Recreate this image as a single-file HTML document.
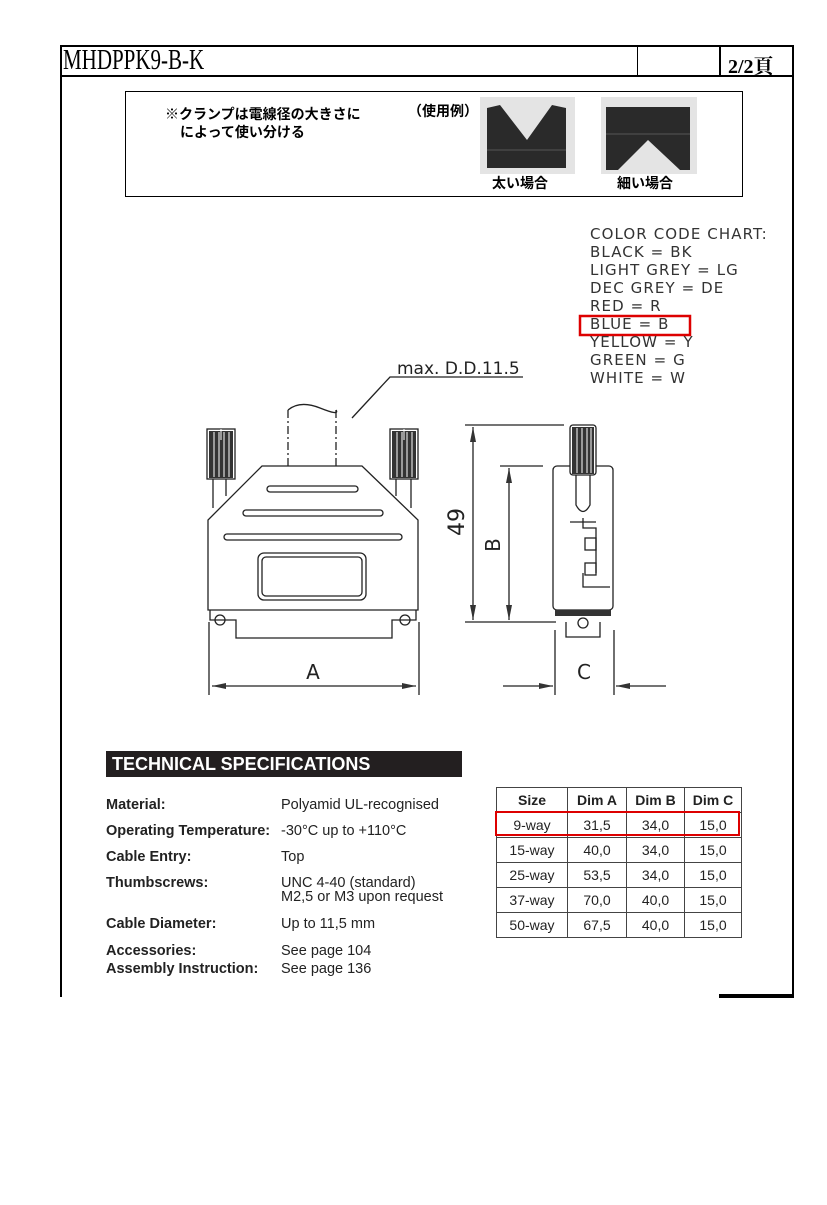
<!DOCTYPE html>
<html><head><meta charset="utf-8"><style>
html,body{margin:0;padding:0;background:#fff;}
body{width:827px;height:1205px;position:relative;overflow:hidden;font-family:"Liberation Sans","Noto Sans CJK JP",sans-serif;}
.a{position:absolute;white-space:nowrap;}
.jp{font-family:"Noto Sans CJK JP",sans-serif;font-weight:bold;font-size:14px;color:#000;}
.cc{font-family:"DejaVu Sans","Liberation Sans",sans-serif;font-size:15px;color:#333;letter-spacing:1.1px;}
.sp{font-size:14.5px;color:#222;}
.b{font-weight:bold;}
table{border-collapse:collapse;position:absolute;left:496px;top:787px;}
td{border:1px solid #444;font-size:14px;color:#222;height:24px;padding:0;text-align:center;}
</style></head><body>
<div class="a" style="left:60px;top:45px;width:734px;height:32px;border:2px solid #000;box-sizing:border-box;"></div>
<div class="a" style="left:637px;top:45px;width:1px;height:32px;background:#000;"></div>
<div class="a" style="left:719px;top:45px;width:2px;height:32px;background:#000;"></div>
<div class="a" style="left:60px;top:77px;width:2px;height:920px;background:#000;"></div>
<div class="a" style="left:792px;top:77px;width:2px;height:920px;background:#000;"></div>
<div class="a" style="left:719px;top:994px;width:75px;height:4px;background:#000;"></div>
<div class="a" style="left:63px;top:45px;font-family:'Liberation Serif',serif;font-size:28px;transform:scaleX(0.75);transform-origin:left;">MHDPPK9-B-K</div>
<div class="a" style="left:728px;top:50px;font-family:'Liberation Serif','Noto Serif CJK SC',serif;font-size:20px;font-weight:bold;">2/2頁</div>
<div class="a" style="left:125px;top:91px;width:618px;height:106px;border:1px solid #000;box-sizing:border-box;"></div>
<div class="a jp" style="left:165px;top:104px;">※クランプは電線径の大きさに</div>
<div class="a jp" style="left:180px;top:122px;">によって使い分ける</div>
<div class="a jp" style="left:408px;top:101px;">（使用例）</div>
<div class="a jp" style="left:492px;top:173px;">太い場合</div>
<div class="a jp" style="left:617px;top:173px;">細い場合</div>
<svg class="a" style="left:0;top:0" width="827" height="1205">
<rect x="480" y="97" width="95" height="77" fill="#e4e4e4"/>
<polygon points="487,108 500,105 527,140 552,105 566,108 566,168 487,168" fill="#2a2a2a"/>
<line x1="487" y1="150" x2="566" y2="150" stroke="#555"/>
<rect x="601" y="97" width="96" height="77" fill="#e4e4e4"/>
<polygon points="606,107 690,107 690,170 680,170 648,140 618,170 606,170" fill="#2a2a2a"/>
<line x1="606" y1="134" x2="690" y2="134" stroke="#555"/>
<rect x="580" y="316" width="110" height="19" fill="none" stroke="#d00" stroke-width="2.5"/>
<g fill="none" stroke="#222" stroke-width="1.3">
<polyline points="523,377 390,377 352,418"/>
<path d="M288,466 V410 M336,466 V410" stroke-dasharray="8,3,2,3"/>
<path d="M288,410 Q300,400 320,408 T336,410"/>
<polygon points="262,466 362,466 418,520 418,610 208,610 208,520"/>
<rect x="267" y="486" width="91" height="6" rx="3"/>
<rect x="243" y="510" width="140" height="6" rx="3"/>
<rect x="224" y="534" width="178" height="6" rx="3"/>
<rect x="258" y="553" width="108" height="47" rx="6"/>
<rect x="262" y="557" width="100" height="39" rx="4"/>
<path d="M210,610 V620 H236 V638 H392 V620 H416 V610"/>
<circle cx="220" cy="620" r="5"/><circle cx="405" cy="620" r="5"/>
<rect x="207" y="429" width="28" height="50" fill="#fff"/>
<rect x="390" y="429" width="28" height="50" fill="#fff"/>
<path d="M213,479 V508 M226,479 V496 M396,479 V496 M411,479 V508"/>
<path d="M209,622 V695 M419,622 V695 M212,686 H416"/>
<path d="M465,425 H564 M473,427 V620 M465,622 H556 M500,466 H543 M509,468 V620"/>
<rect x="553" y="466" width="60" height="144" rx="4"/>
<rect x="570" y="425" width="26" height="50" rx="3" fill="#fff"/>
<path d="M576,475 V505 Q583,518 590,505 V475"/>
<path d="M570,522 H596 M583,518 V528 H596 V573"/>
<rect x="585" y="538" width="11" height="12"/><rect x="585" y="563" width="11" height="12"/>
<path d="M583,573 V587 H610"/>
<path d="M566,622 V637 H600 V622"/>
<circle cx="583" cy="623" r="5"/>
<path d="M555,630 V695 M614,630 V695 M503,686 H553 M666,686 H616"/>
</g>
<g fill="#333">
<rect x="209" y="431" width="24" height="47"/><rect x="392" y="431" width="24" height="47"/>
<rect x="572" y="427" width="22" height="47"/>
<rect x="555" y="610" width="56" height="6"/>
<polygon points="212,686 226,683 226,689"/><polygon points="416,686 402,683 402,689"/>
<polygon points="473,427 470,442 476,442"/><polygon points="473,620 470,605 476,605"/>
<polygon points="509,468 506,483 512,483"/><polygon points="509,620 506,605 512,605"/>
<polygon points="553,686 539,683 539,689"/><polygon points="616,686 630,683 630,689"/>
</g>
<g stroke="#fff" stroke-width="1">
<path d="M214,432 V477 M219,432 V477 M224,432 V477 M229,432 V477 M397,432 V477 M402,432 V477 M407,432 V477 M412,432 V477 M577,428 V473 M582,428 V473 M587,428 V473 M591,428 V473"/>
<path d="M221,429 V440 M404,429 V440"/>
</g>
<g font-family="DejaVu Sans,Liberation Sans,sans-serif" fill="#222">
<text x="397" y="374" font-size="17">max. D.D.11.5</text>
<text x="313" y="679" font-size="20" text-anchor="middle">A</text>
<text x="584" y="679" font-size="20" text-anchor="middle">C</text>
<text transform="translate(464,522) rotate(-90)" font-size="22" text-anchor="middle">49</text>
<text transform="translate(500,545) rotate(-90)" font-size="20" text-anchor="middle">B</text>
</g>
</svg>
<div class="a cc" style="left:590px;top:225px;line-height:18px;">COLOR CODE CHART:<br>BLACK = BK<br>LIGHT GREY = LG<br>DEC GREY = DE<br>RED = R<br>BLUE = B<br>YELLOW = Y<br>GREEN = G<br>WHITE = W</div>
<div class="a" style="left:106px;top:751px;width:356px;height:26px;background:#231f20;"></div>
<div class="a b" style="left:112px;top:754px;color:#fff;font-size:18px;">TECHNICAL SPECIFICATIONS</div>
<div class="a sp b" style="left:106px;top:792px;line-height:26px;">Material:<br>Operating Temperature:<br>Cable Entry:<br>Thumbscrews:</div>
<div class="a sp b" style="left:106px;top:916px;">Cable Diameter:</div>
<div class="a sp b" style="left:106px;top:942px;line-height:18px;">Accessories:<br>Assembly Instruction:</div>
<div class="a sp" style="left:281px;top:792px;line-height:26px;">Polyamid UL-recognised<br>-30°C up to +110°C<br>Top<br>UNC 4-40 (standard)</div>
<div class="a sp" style="left:281px;top:889px;">M2,5 or M3 upon request</div>
<div class="a sp" style="left:281px;top:916px;">Up to 11,5 mm</div>
<div class="a sp" style="left:281px;top:942px;line-height:18px;">See page 104<br>See page 136</div>
<table>
<tr><td class="b" style="width:70px">Size</td><td class="b" style="width:58px">Dim A</td><td class="b" style="width:57px">Dim B</td><td class="b" style="width:56px">Dim C</td></tr>
<tr><td>9-way</td><td>31,5</td><td>34,0</td><td>15,0</td></tr>
<tr><td>15-way</td><td>40,0</td><td>34,0</td><td>15,0</td></tr>
<tr><td>25-way</td><td>53,5</td><td>34,0</td><td>15,0</td></tr>
<tr><td>37-way</td><td>70,0</td><td>40,0</td><td>15,0</td></tr>
<tr><td>50-way</td><td>67,5</td><td>40,0</td><td>15,0</td></tr>
</table>
<div class="a" style="left:495px;top:811px;width:245px;height:25px;border:2.5px solid #d00;box-sizing:border-box;"></div>
</body></html>
